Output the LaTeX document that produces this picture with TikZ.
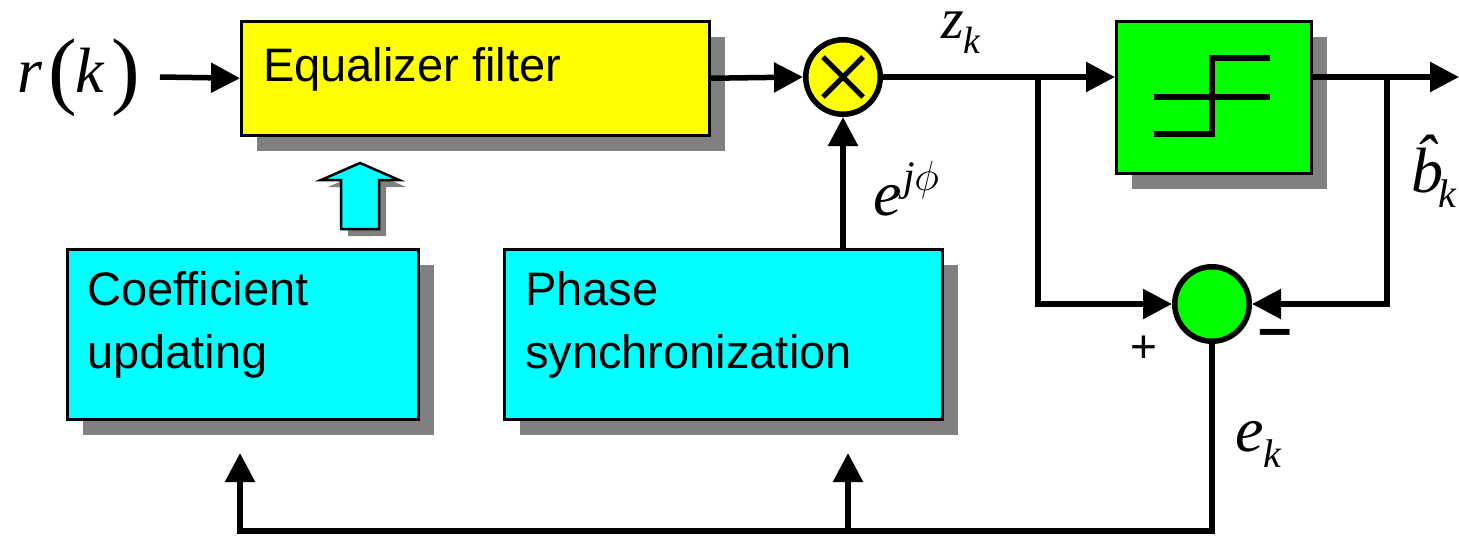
\documentclass[tikz,border=0pt]{standalone}
\usepackage{fontspec}
\setmainfont{Liberation Sans}
\newfontfamily\mserif{Liberation Serif}
\usetikzlibrary{arrows.meta,shadows}
\definecolor{eqyellow}{HTML}{FFFF00}
\definecolor{decgreen}{HTML}{00FF00}
\definecolor{upcyan}{HTML}{00FFFF}
\definecolor{shgray}{HTML}{808080}
\begin{document}
\begin{tikzpicture}[x=1pt,y=-1pt,
  conn/.style={line width=5.5pt},
  tipped/.style={-{Triangle[length=29pt 0 0,width=29pt 0 0]}},
  blockbox/.style={draw=black,line width=2.5pt,anchor=north west,inner sep=0pt,
    drop shadow={shadow xshift=16pt,shadow yshift=-16pt,opacity=1,fill=shgray}},
  opcircle/.style={circle,draw=black,line width=5.5pt,minimum size=74.5pt,inner sep=0pt},
  lbl/.style={anchor=base west,inner sep=0pt,font=\fontsize{47}{47}\selectfont},
  mlbl/.style={anchor=base west,inner sep=0pt,font=\mserif\itshape\fontsize{64}{64}\selectfont},
]
\useasboundingbox (0,0) rectangle (1459,536);

% blocks
\node[blockbox,fill=eqyellow,minimum width=468pt,minimum height=114pt] (eq) at (240,20) {};
\node[blockbox,fill=decgreen,minimum width=195pt,minimum height=152pt] (dec) at (1115,20) {};
\node[blockbox,fill=upcyan,minimum width=351pt,minimum height=170pt] (coef) at (66,248) {};
\node[blockbox,fill=upcyan,minimum width=438pt,minimum height=170pt] (phase) at (503,248) {};

% block texts
\node[lbl] (eqt) at (263,81) {Equalizer filter};
\node[lbl] (coeft1) at (87,305) {Coefficient};
\node[lbl] (coeft2) at (87,368) {updating};
\node[lbl] (phaset1) at (525,305) {Phase};
\node[lbl] (phaset2) at (525,368) {synchronization};

% decision symbol
\draw[line width=6pt] (1154,134) -- (1212,134) -- (1212,58) -- (1270,58);
\draw[line width=6pt] (1154,97) -- (1270,97);

% circles
\node[opcircle,fill=eqyellow] (mult) at (843,77) {};
\draw[line width=5pt] ([shift={(-20,-20)}]mult.center) -- ([shift={(20,20)}]mult.center);
\draw[line width=5pt] ([shift={(-20,20)}]mult.center) -- ([shift={(20,-20)}]mult.center);
\node[opcircle,fill=decgreen] (sum) at (1212,304) {};

% coordinates
\coordinate (rin) at (160,77);
\coordinate (b1) at (1038,77);
\coordinate (b2) at (1387,77);
\coordinate (out) at (1459,77);
\coordinate (cb) at (240,531);
\coordinate (cu) at (240,453);
\coordinate (pb) at (848,531);
\coordinate (pu) at (848,453);

% connectors
\draw[conn,tipped] (rin) -- (eq.west);
\draw[conn,tipped] (eq.east) -- (mult.west);
\draw[conn] (mult.east) -- (b1);
\draw[conn,tipped] (b1) -- (dec.west |- b1);
\draw[conn] (dec.east |- b2) -- (b2);
\draw[conn,tipped] (b2) -- (out);
\draw[conn,tipped] (b1) |- (sum.west);
\draw[conn,tipped] (b2) |- (sum.east);
\draw[conn,tipped] (mult.south |- phase.north) -- (mult.south);
\draw[conn,tipped] (sum.south) |- (cb) -- (cu);
\draw[conn,tipped] (pb) -- (pu);

% hollow update arrow
\draw[line width=2.5pt,fill=upcyan,
  drop shadow={shadow xshift=7pt,shadow yshift=-7pt,opacity=1,fill=shgray}]
  (360,163) -- (399,180) -- (379,180) -- (379,229) -- (341,229) -- (341,180) -- (321,180) -- cycle;

% math labels
\node[mlbl] (rl) at (17,92) {r};
\node[anchor=base west,inner sep=0pt,font=\mserif\fontsize{86}{86}\selectfont] (lp) at (48,98) {(};
\node[mlbl] (kl) at (75,92) {k};
\node[anchor=base west,inner sep=0pt,font=\mserif\fontsize{86}{86}\selectfont] (rp) at (111,98) {)};
\node[anchor=base west,inner sep=0pt,font=\mserif\itshape\fontsize{58}{58}\selectfont] (zl) at (941,38)
  {z\raisebox{-15pt}{\fontsize{38}{38}\selectfont k}};
\node[mlbl] (ejl) at (873,215)
  {e\raisebox{25pt}{\fontsize{42}{42}\selectfont\hspace{2pt}j\hspace{-1pt}\scalebox{1.7}{\fontsize{24.88}{24.88}\selectfont$\phi$}}};
\node[mlbl] (ekl) at (1235,451)
  {e\raisebox{-16pt}{\fontsize{40}{40}\selectfont k}};
\node[mlbl] (bhl) at (1411,192)
  {\^b\kern-5pt\raisebox{-15pt}{\fontsize{40}{40}\selectfont k}};

% signs
\node[anchor=center,inner sep=0pt,font=\fontsize{46}{46}\selectfont] (plus) at (1144,349) {+};
\node[anchor=center,inner sep=0pt,font=\bfseries\fontsize{60}{60}\selectfont] (minus) at (1275,339) {–};
\end{tikzpicture}
\end{document}
